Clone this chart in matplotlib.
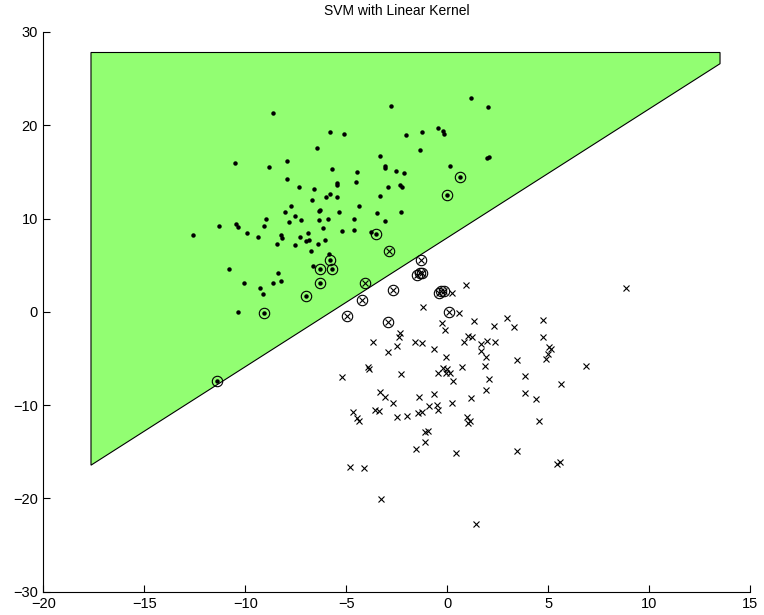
import matplotlib
matplotlib.use("Agg")
import matplotlib.pyplot as plt

plt.rcParams['font.family'] = ['Liberation Sans', 'DejaVu Sans']

# class +1 samples (dots)
pos_x = [-8.63, -6.47, -10.51, -8.84, -7.94, -7.95, -7.34, -6.58, -6.71, -7.72,
         -8.05, -6.32, -6.35, 1.17, -2.80, 2.03, -5.82, -5.11, -2.03, -1.25,
         -0.45, -0.21, -0.16, -3.32, -1.37, 1.96, 2.06, -5.71, -4.46, -3.10,
         -3.08, -2.56, -2.16, 0.15, -4.51, -5.45, -5.48, -5.82, -5.99, -5.45,
         -2.95, -2.33, -2.24, -3.32, -4.39, -5.38, -3.47, -2.31, -7.53, -8.96,
         -5.93, -11.30, -10.45, -10.36, -9.09, -7.82, -7.24, -6.34, -6.14, -12.60,
         -9.90, -9.39, -8.23, -8.18, -7.28, -6.88, -7.01, -6.85, -6.04, -8.45,
         -7.56, -6.39, -6.73, -5.87, -6.66, -10.82, -8.37, -10.05, -8.64, -8.23,
         -9.27, -9.11, -10.38, -4.63, -3.10, -5.23, -4.63, -3.79]
pos_y = [21.31, 17.52, 15.95, 15.52, 16.16, 14.20, 13.34, 13.19, 11.95, 11.34,
         10.70, 10.91, 10.77, 22.88, 22.06, 21.92, 19.24, 19.02, 18.98, 19.24,
         19.73, 19.38, 19.06, 16.73, 17.31, 16.48, 16.59, 15.34, 14.95, 15.63,
         15.38, 15.12, 14.88, 15.59, 13.91, 13.77, 13.56, 12.66, 12.30, 12.34,
         13.34, 13.59, 13.34, 12.41, 11.31, 10.73, 10.62, 10.73, 10.27, 9.98,
         9.98, 9.20, 9.41, 9.09, 9.16, 9.66, 9.81, 9.81, 9.01, 8.23,
         8.48, 8.05, 8.20, 7.91, 7.99, 8.48, 7.56, 7.66, 7.66, 7.30,
         7.19, 7.24, 6.48, 6.16, 4.88, 4.59, 4.19, 3.12, 3.09, 3.27,
         2.58, 1.88, 0.01, 9.95, 9.70, 8.66, 8.77, 8.55]

# class +1 support vectors
pos_sv_x = [0.63, 0.00, -5.83, -6.29, -5.71, -6.29, -7.01, -9.07, -11.40, -3.55]
pos_sv_y = [14.45, 12.49, 5.61, 4.55, 4.55, 3.12, 1.73, -0.10, -7.42, 8.34]

# class -1 samples (crosses)
neg_x = [0.25, 0.93, -1.19, 0.58, -0.25, -0.11, -2.34, -2.41, -3.66, -1.59,
         -1.24, -2.48, -2.92, -0.66, 1.01, 0.83, -0.06, -3.91, -3.86, -2.29,
         -5.20, -0.45, -0.23, -0.03, -0.08, 0.13, 0.30, 0.73, -3.33, -3.07,
         -1.39, -0.64, 8.85, 1.32, 2.33, 2.97, 3.32, 4.75, 1.21, 1.65,
         1.98, 2.36, 1.65, 4.75, 5.05, 5.12, 5.00, 4.90, 1.90, 1.87,
         3.43, 6.87, 3.83, 2.05, 5.63, 1.92, 3.83, 4.41, 1.16, -2.69,
         0.25, -4.68, -4.49, -4.39, -3.59, -3.37, -2.51, -2.01, -1.44, -1.27,
         -0.89, -0.50, -0.46, 0.96, 1.12, 1.01, 4.54, -1.12, -0.97, -1.10,
         -1.56, 0.43, 3.46, 5.42, 5.58, -4.80, -4.11, -3.27, 1.43]
neg_y = [2.05, 2.87, 0.55, -0.16, -1.23, -1.95, -2.31, -2.67, -3.21, -3.27,
         -3.34, -3.67, -4.34, -4.02, -2.56, -3.24, -4.88, -5.95, -6.16, -6.70,
         -7.02, -6.53, -6.06, -6.16, -6.53, -6.59, -7.38, -5.95, -8.56, -9.10,
         -9.16, -8.81, 2.52, -0.95, -1.55, -0.70, -1.60, -0.88, -2.67, -3.45,
         -3.10, -3.24, -4.17, -2.70, -3.74, -3.96, -4.55, -5.09, -4.88, -5.78,
         -5.20, -5.78, -6.85, -7.20, -7.77, -8.41, -8.74, -9.38, -9.24, -9.81,
         -9.74, -10.77, -11.42, -11.70, -10.53, -10.63, -11.24, -11.17, -10.81, -10.71,
         -10.10, -10.02, -10.53, -11.24, -11.70, -11.95, -11.67, -12.85, -12.74, -13.99,
         -14.67, -15.10, -14.92, -16.35, -16.10, -16.64, -16.77, -20.03, -22.78]

# class -1 support vectors
neg_sv_x = [-2.89, -1.32, -1.48, -1.35, -1.23, -4.08, -2.67, -0.41, -0.29, -0.16,
            -4.24, -4.98, -2.95, 0.07]
neg_sv_y = [6.55, 5.55, 4.00, 4.11, 4.16, 3.05, 2.34, 2.07, 2.18, 2.23,
            1.27, -0.42, -1.06, -0.02]

# decision region for class +1
region_x = [-17.64, 13.5, 13.5, -17.64]
region_y = [27.8, 27.8, 26.6, -16.44]

fig = plt.figure(figsize=(7.64, 6.15), dpi=100)
ax = fig.add_axes([0.0567, 0.0379, 0.9254, 0.9101])

ax.fill(region_x, region_y, facecolor='#92fe72', edgecolor='black', linewidth=0.8, zorder=1)

ax.plot(pos_x, pos_y, 'o', color='black', markersize=2.2, zorder=3)
ax.plot(pos_sv_x, pos_sv_y, 'o', color='black', markersize=2.2, zorder=3)
ax.plot(pos_sv_x, pos_sv_y, 'o', mfc='none', mec='black', markersize=7.5, mew=0.8, zorder=3)

ax.plot(neg_x, neg_y, 'x', color='black', markersize=5, mew=0.8, zorder=3)
ax.plot(neg_sv_x, neg_sv_y, 'x', color='black', markersize=5, mew=0.8, zorder=3)
ax.plot(neg_sv_x, neg_sv_y, 'o', mfc='none', mec='black', markersize=7.5, mew=0.8, zorder=3)

ax.set_xlim(-20, 15)
ax.set_ylim(-30, 30)
ax.set_xticks(range(-20, 16, 5))
ax.set_yticks(range(-30, 31, 10))
ax.spines['top'].set_visible(False)
ax.spines['right'].set_visible(False)
for s in ('left', 'bottom'):
    ax.spines[s].set_linewidth(0.8)
ax.tick_params(direction='in', length=5, width=0.8, labelsize=10.5, pad=4)
ax.set_title('SVM with Linear Kernel', fontsize=10, pad=12)

fig.savefig('out.png', dpi=100)
